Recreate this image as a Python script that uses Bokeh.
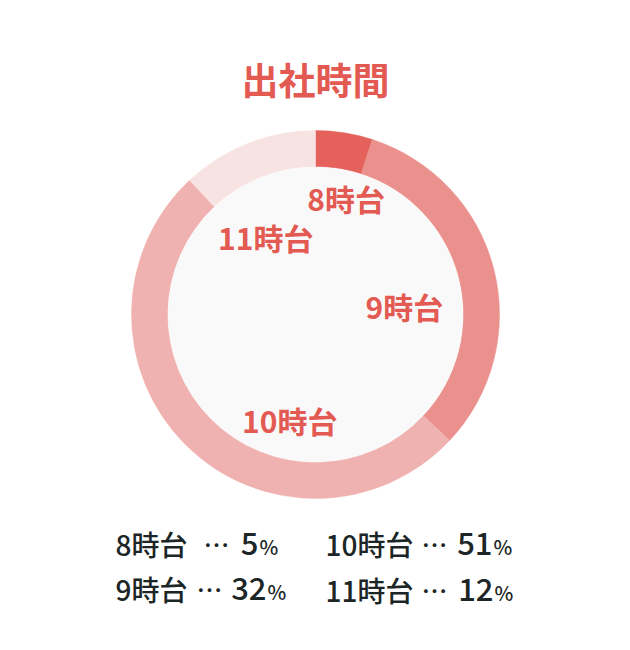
import math
from bokeh.plotting import figure
from bokeh.models import Range1d, ColumnDataSource
from bokeh.core.properties import value
from bokeh.embed import file_html
from bokeh.resources import INLINE

# ---- data ----
title_text = "出社時間"
categories = ["8時台", "9時台", "10時台", "11時台"]
shares = [5, 32, 51, 12]
colors = ["#e5625c", "#eb918d", "#f0b2b0", "#f8e3e3"]

# ---- layout / style ----
FONT = value("Noto Sans CJK JP")
FONT_MED = value("Noto Sans CJK JP Medium")
RED = "#e35a53"
DARK = "#1c2626"
CX_PX, CY_PX = 315, 314          # ring centre
OUTER_R, INNER_R = 184, 148
label_base_r = 100
label_offsets = [(15, -18), (-8, 16), (45, 35), (-13, 15)]
W, H = 614, 634

def dx(sx):
    return sx - CX_PX

def dy(sy):
    return CY_PX - sy

p = figure(width=W, height=H, output_backend="svg", toolbar_location=None,
           x_range=Range1d(dx(0), dx(W)), y_range=Range1d(dy(H), dy(0)),
           min_border=0, outline_line_color=None)
p.axis.visible = False
p.grid.visible = False
p.background_fill_color = "white"
p.border_fill_color = "white"

total = float(sum(shares))
starts, ends, mids = [], [], []
cum = 0.0
for s in shares:
    a0 = math.pi / 2 - 2 * math.pi * cum / total
    cum += s
    a1 = math.pi / 2 - 2 * math.pi * cum / total
    starts.append(a0)
    ends.append(a1)
    mids.append((a0 + a1) / 2)

src = ColumnDataSource(dict(start=starts, end=ends, color=colors))
p.annular_wedge(x=0, y=0, inner_radius=INNER_R, outer_radius=OUTER_R,
                start_angle="start", end_angle="end", direction="clock",
                fill_color="color", line_color="color", line_width=0.5, source=src)
p.circle(x=0, y=0, radius=INNER_R - 0.5, fill_color="#f9f9f9", line_color=None)

# ring labels
lab = ColumnDataSource(dict(
    x=[label_base_r * math.cos(m) for m in mids],
    y=[label_base_r * math.sin(m) for m in mids],
    t=categories,
    xo=[o[0] for o in label_offsets],
    yo=[o[1] for o in label_offsets],
))
p.text(x="x", y="y", text="t", x_offset="xo", y_offset="yo", source=lab,
       text_font=FONT, text_font_style="bold", text_font_size="30px",
       text_color=RED, text_align="center", text_baseline="middle")

# title
p.text(x=[0], y=[dy(78)], text=[title_text], text_font=FONT, text_font_style="bold",
       text_font_size="37px", text_color=RED, text_align="center", text_baseline="middle")

# legend
name_x = [115, 115, 325, 325]
row_y = [543, 588, 543, 589]
dots_x = [203, 196, 421, 421]
num_right = [258, 266, 492, 493]

leg = ColumnDataSource(dict(
    nx=[dx(v) for v in name_x],
    y=[dy(v) for v in row_y],
    dxs=[dx(v) for v in dots_x],
    vx=[dx(v) for v in num_right],
    name=categories,
    dots=["…"] * len(categories),
    val=[str(s) for s in shares],
    pct=["%"] * len(categories),
))
p.text(x="nx", y="y", text="name", source=leg, text_font=FONT_MED, text_font_size="28px",
       text_color=DARK, text_align="left", text_baseline="middle")
p.text(x="dxs", y="y", text="dots", source=leg, text_font=FONT_MED, text_font_size="26px",
       text_color=DARK, text_align="left", text_baseline="middle")
p.text(x="vx", y="y", text="val", source=leg, text_font=FONT_MED,
       text_font_size="31px", text_color=DARK, text_align="right", text_baseline="middle")
p.text(x="vx", y="y", text="pct", source=leg, text_font=FONT_MED, x_offset=1, y_offset=3,
       text_font_size="20px", text_color=DARK, text_align="left", text_baseline="middle")

open("out.html", "w").write(file_html(p, INLINE))
